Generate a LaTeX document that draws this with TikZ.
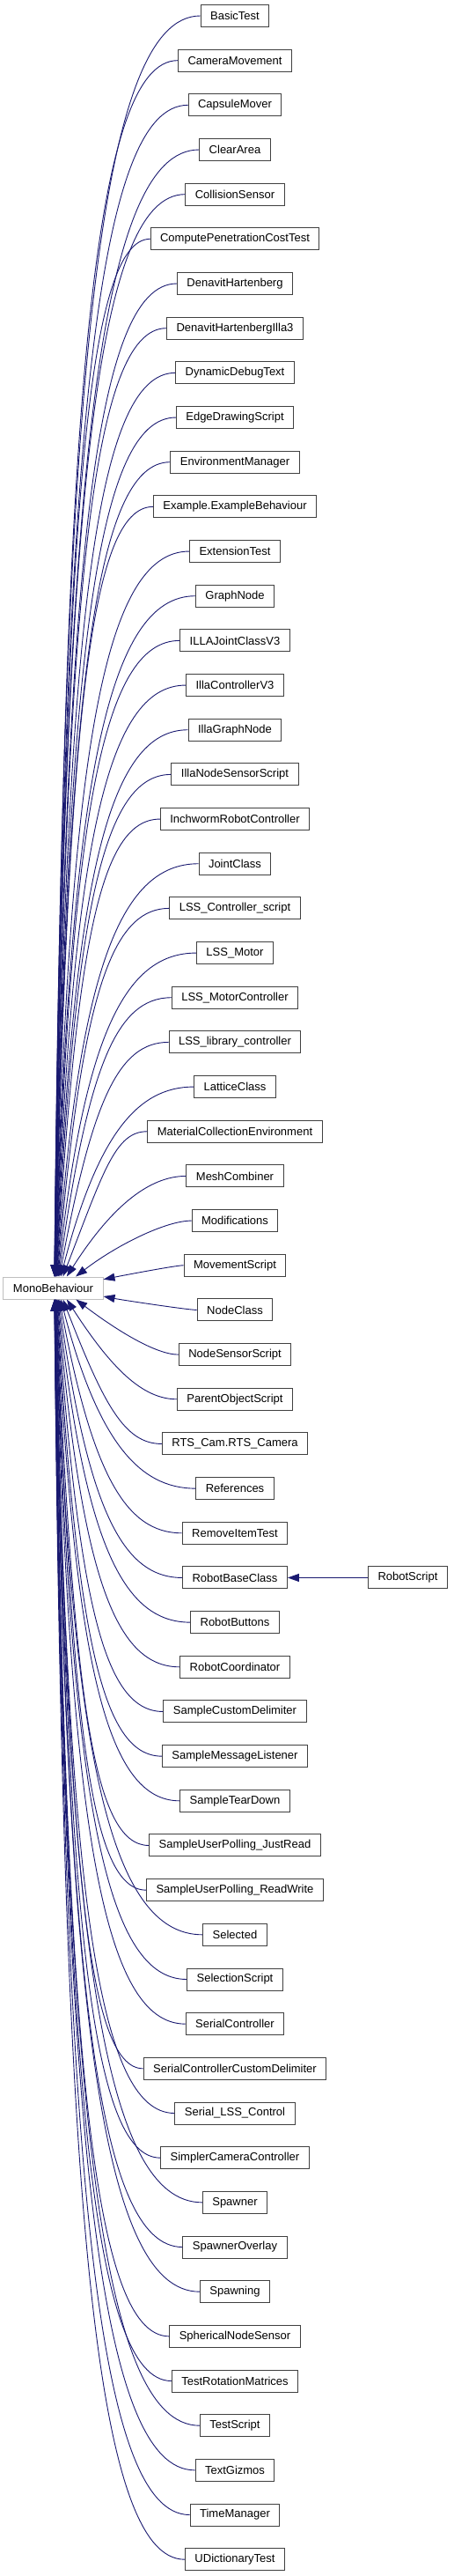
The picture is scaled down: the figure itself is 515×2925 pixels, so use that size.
\documentclass[tikz,border=0pt]{standalone}
\usepackage{fontspec}
\setmainfont{Liberation Sans}
\usepackage{tikz}
\usetikzlibrary{arrows.meta, calc}
\definecolor{edgeblue}{RGB}{25,25,112}
\definecolor{monogray}{RGB}{191,191,191}
\tikzset{
    base/.style={draw=black!75, line width=1pt, rectangle, minimum height=25pt, inner xsep=11pt, inner ysep=0pt, font=\fontsize{13}{15}\selectfont},
    arrow/.style={draw=edgeblue, line width=0.9pt, -{Triangle[length=13pt, width=9pt]}},
    inherit/.style={to path={let \p1=(\tikztostart), \p2=(\tikztotarget.center), \p3=(\tikztotarget.north east),
        \n1={abs(\y1-\y2)}, \n2={sign(\y1-\y2)},
        \n3={min(\x3-\x2,(\y3-\y2)/\n1*150)}, \n4={\n2*min(\y3-\y2,(\x3-\x2)/150*\n1)},
        \n5={0.7*\n1+5}, \n6={atan2(\n1,150*(150/(\n1+150)))}, \n7={(\x1-\x2-\n3)*0.8*(\n1/(\n1+200))} in
        .. controls ({\x1-\n7},\y1) and ({\x2+\n3+\n5*cos(\n6)},{\y2+\n4+\n2*\n5*sin(\n6)}) .. ({\x2+\n3},{\y2+\n4}) \tikztonodes}}
}

\begin{document}
\begin{tikzpicture}[x=1pt, y=1pt, node distance=50.67pt]
\useasboundingbox (0,0) rectangle (515,-2925);
\node[base] (basictest) at (267,-18) {BasicTest};
\node[base, below of=basictest] (cammove) {CameraMovement};
\node[base, below of=cammove] (capsule) {CapsuleMover};
\node[base, below of=capsule] (cleararea) {ClearArea};
\node[base, below of=cleararea] (collision) {CollisionSensor};
\node[base, below of=collision] (penetration) {ComputePenetrationCostTest};
\node[base, below of=penetration] (denavit) {DenavitHartenberg};
\node[base, below of=denavit] (denavit3) {DenavitHartenbergIlla3};
\node[base, below of=denavit3] (debugtext) {DynamicDebugText};
\node[base, below of=debugtext] (edgedraw) {EdgeDrawingScript};
\node[base, below of=edgedraw] (envmanager) {EnvironmentManager};
\node[base, below of=envmanager] (example) {Example.ExampleBehaviour};
\node[base, below of=example] (extension) {ExtensionTest};
\node[base, below of=extension] (graphnode) {GraphNode};
\node[base, below of=graphnode] (illajoint) {ILLAJointClassV3};
\node[base, below of=illajoint] (illactrl) {IllaControllerV3};
\node[base, below of=illactrl] (illagraph) {IllaGraphNode};
\node[base, below of=illagraph] (illasensor) {IllaNodeSensorScript};
\node[base, below of=illasensor] (inchworm) {InchwormRobotController};
\node[base, below of=inchworm] (joint) {JointClass};
\node[base, below of=joint] (lssscript) {LSS\_Controller\_script};
\node[base, below of=lssscript] (lssmotor) {LSS\_Motor};
\node[base, below of=lssmotor] (lssmotorctrl) {LSS\_MotorController};
\node[base, below of=lssmotorctrl] (lsslib) {LSS\_library\_controller};
\node[base, below of=lsslib] (lattice) {LatticeClass};
\node[base, below of=lattice] (material) {MaterialCollectionEnvironment};
\node[base, below of=material] (mesh) {MeshCombiner};
\node[base, below of=mesh] (modif) {Modifications};
\node[base, below of=modif] (movement) {MovementScript};
\node[base, below of=movement] (nodeclass) {NodeClass};
\node[base, below of=nodeclass] (nodesensor) {NodeSensorScript};
\node[base, below of=nodesensor] (parentobj) {ParentObjectScript};
\node[base, below of=parentobj] (rtscam) {RTS\_Cam.RTS\_Camera};
\node[base, below of=rtscam] (references) {References};
\node[base, below of=references] (removeitem) {RemoveItemTest};
\node[base, below of=removeitem] (robotbase) {RobotBaseClass};
\node[base, below of=robotbase] (robotbuttons) {RobotButtons};
\node[base, below of=robotbuttons] (robotcoord) {RobotCoordinator};
\node[base, below of=robotcoord] (customdelim) {SampleCustomDelimiter};
\node[base, below of=customdelim] (msglistener) {SampleMessageListener};
\node[base, below of=msglistener] (teardown) {SampleTearDown};
\node[base, below of=teardown] (justread) {SampleUserPolling\_JustRead};
\node[base, below of=justread] (readwrite) {SampleUserPolling\_ReadWrite};
\node[base, below of=readwrite] (selected) {Selected};
\node[base, below of=selected] (selection) {SelectionScript};
\node[base, below of=selection] (serialctrl) {SerialController};
\node[base, below of=serialctrl] (serialdelim) {SerialControllerCustomDelimiter};
\node[base, below of=serialdelim] (seriallss) {Serial\_LSS\_Control};
\node[base, below of=seriallss] (simplercam) {SimplerCameraController};
\node[base, below of=simplercam] (spawner) {Spawner};
\node[base, below of=spawner] (spawnoverlay) {SpawnerOverlay};
\node[base, below of=spawnoverlay] (spawning) {Spawning};
\node[base, below of=spawning] (spherical) {SphericalNodeSensor};
\node[base, below of=spherical] (rotmatrices) {TestRotationMatrices};
\node[base, below of=rotmatrices] (testscript) {TestScript};
\node[base, below of=testscript] (textgizmos) {TextGizmos};
\node[base, below of=textgizmos] (timemanager) {TimeManager};
\node[base, below of=timemanager] (udict) {UDictionaryTest};
\node[base, draw=monogray] (mono) at (60.5,-1462.5) {MonoBehaviour};
\node[base, node distance=196.5pt, right of=robotbase] (robotscript) {RobotScript};
\draw[arrow] (basictest.west) to[inherit] (mono);
\draw[arrow] (cammove.west) to[inherit] (mono);
\draw[arrow] (capsule.west) to[inherit] (mono);
\draw[arrow] (cleararea.west) to[inherit] (mono);
\draw[arrow] (collision.west) to[inherit] (mono);
\draw[arrow] (penetration.west) to[inherit] (mono);
\draw[arrow] (denavit.west) to[inherit] (mono);
\draw[arrow] (denavit3.west) to[inherit] (mono);
\draw[arrow] (debugtext.west) to[inherit] (mono);
\draw[arrow] (edgedraw.west) to[inherit] (mono);
\draw[arrow] (envmanager.west) to[inherit] (mono);
\draw[arrow] (example.west) to[inherit] (mono);
\draw[arrow] (extension.west) to[inherit] (mono);
\draw[arrow] (graphnode.west) to[inherit] (mono);
\draw[arrow] (illajoint.west) to[inherit] (mono);
\draw[arrow] (illactrl.west) to[inherit] (mono);
\draw[arrow] (illagraph.west) to[inherit] (mono);
\draw[arrow] (illasensor.west) to[inherit] (mono);
\draw[arrow] (inchworm.west) to[inherit] (mono);
\draw[arrow] (joint.west) to[inherit] (mono);
\draw[arrow] (lssscript.west) to[inherit] (mono);
\draw[arrow] (lssmotor.west) to[inherit] (mono);
\draw[arrow] (lssmotorctrl.west) to[inherit] (mono);
\draw[arrow] (lsslib.west) to[inherit] (mono);
\draw[arrow] (lattice.west) to[inherit] (mono);
\draw[arrow] (material.west) to[inherit] (mono);
\draw[arrow] (mesh.west) to[inherit] (mono);
\draw[arrow] (modif.west) to[inherit] (mono);
\draw[arrow] (movement.west) to[inherit] (mono);
\draw[arrow] (nodeclass.west) to[inherit] (mono);
\draw[arrow] (nodesensor.west) to[inherit] (mono);
\draw[arrow] (parentobj.west) to[inherit] (mono);
\draw[arrow] (rtscam.west) to[inherit] (mono);
\draw[arrow] (references.west) to[inherit] (mono);
\draw[arrow] (removeitem.west) to[inherit] (mono);
\draw[arrow] (robotbase.west) to[inherit] (mono);
\draw[arrow] (robotbuttons.west) to[inherit] (mono);
\draw[arrow] (robotcoord.west) to[inherit] (mono);
\draw[arrow] (customdelim.west) to[inherit] (mono);
\draw[arrow] (msglistener.west) to[inherit] (mono);
\draw[arrow] (teardown.west) to[inherit] (mono);
\draw[arrow] (justread.west) to[inherit] (mono);
\draw[arrow] (readwrite.west) to[inherit] (mono);
\draw[arrow] (selected.west) to[inherit] (mono);
\draw[arrow] (selection.west) to[inherit] (mono);
\draw[arrow] (serialctrl.west) to[inherit] (mono);
\draw[arrow] (serialdelim.west) to[inherit] (mono);
\draw[arrow] (seriallss.west) to[inherit] (mono);
\draw[arrow] (simplercam.west) to[inherit] (mono);
\draw[arrow] (spawner.west) to[inherit] (mono);
\draw[arrow] (spawnoverlay.west) to[inherit] (mono);
\draw[arrow] (spawning.west) to[inherit] (mono);
\draw[arrow] (spherical.west) to[inherit] (mono);
\draw[arrow] (rotmatrices.west) to[inherit] (mono);
\draw[arrow] (testscript.west) to[inherit] (mono);
\draw[arrow] (textgizmos.west) to[inherit] (mono);
\draw[arrow] (timemanager.west) to[inherit] (mono);
\draw[arrow] (udict.west) to[inherit] (mono);
\draw[arrow] (robotscript) -- (robotbase);
\end{tikzpicture}
\end{document}
